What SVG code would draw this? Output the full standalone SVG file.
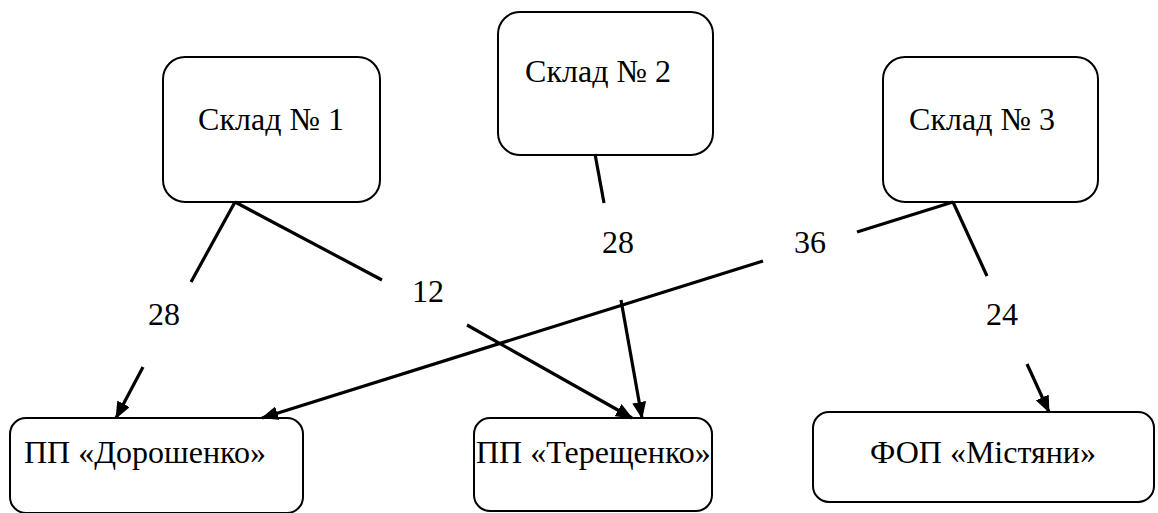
<svg xmlns="http://www.w3.org/2000/svg" width="1158" height="513" viewBox="0 0 1158 513">
<style>
.box{fill:#fff;stroke:#000;stroke-width:2}
.lbl{font-family:'Liberation Serif','Tinos','Noto Serif','DejaVu Serif',serif;font-size:32px;fill:#000}
.c{stroke:#000;stroke-width:3.2;fill:none;stroke-linecap:butt}
</style>
<defs>
<marker id="ah" markerUnits="userSpaceOnUse" markerWidth="18" markerHeight="14" refX="16" refY="7" orient="auto">
<path d="M0,0 L17,7 L0,14 z" fill="#000"/>
</marker>
</defs>
<rect width="1158" height="513" fill="#fff"/>
<g font-family="Liberation Serif, serif">
<g id="n1"><rect class="box" x="163" y="57" width="217" height="145" rx="22"/><text class="lbl" x="271" y="130" text-anchor="middle">Склад № 1</text></g>
<g id="n2"><rect class="box" x="498" y="12" width="215" height="143" rx="22"/><text class="lbl" x="598" y="82" text-anchor="middle">Склад № 2</text></g>
<g id="n3"><rect class="box" x="883" y="57" width="215" height="145" rx="22"/><text class="lbl" x="982" y="130" text-anchor="middle">Склад № 3</text></g>
<g id="n4"><rect class="box" x="10" y="418" width="293" height="95" rx="16"/><text class="lbl" x="24" y="463">ПП «Дорошенко»</text></g>
<g id="n5"><rect class="box" x="474" y="418" width="238" height="93" rx="16"/><text class="lbl" x="476" y="463">ПП «Терещенко»</text></g>
<g id="n6"><rect class="box" x="813" y="412" width="341" height="90" rx="16"/><text class="lbl" x="983" y="463" text-anchor="middle">ФОП «Містяни»</text></g>
<g id="connectors">
<line class="c" x1="235" y1="202" x2="191" y2="282"/>
<line class="c" x1="143" y1="367" x2="116" y2="418" marker-end="url(#ah)"/>
<line class="c" x1="235" y1="202" x2="382" y2="280"/>
<line class="c" x1="467" y1="325" x2="632" y2="418" marker-end="url(#ah)"/>
<line class="c" x1="595" y1="154" x2="604" y2="203"/>
<line class="c" x1="621" y1="300" x2="642" y2="418" marker-end="url(#ah)"/>
<line class="c" x1="953" y1="202" x2="857" y2="232"/>
<line class="c" x1="763" y1="261" x2="262" y2="418" marker-end="url(#ah)"/>
<line class="c" x1="953" y1="202" x2="987" y2="276"/>
<line class="c" x1="1027" y1="364" x2="1049" y2="412" marker-end="url(#ah)"/>
<text class="lbl" x="148" y="325">28</text>
<text class="lbl" x="412" y="302">12</text>
<text class="lbl" x="602" y="253">28</text>
<text class="lbl" x="794" y="253">36</text>
<text class="lbl" x="986" y="325">24</text>
</g>
</g>
</svg>
